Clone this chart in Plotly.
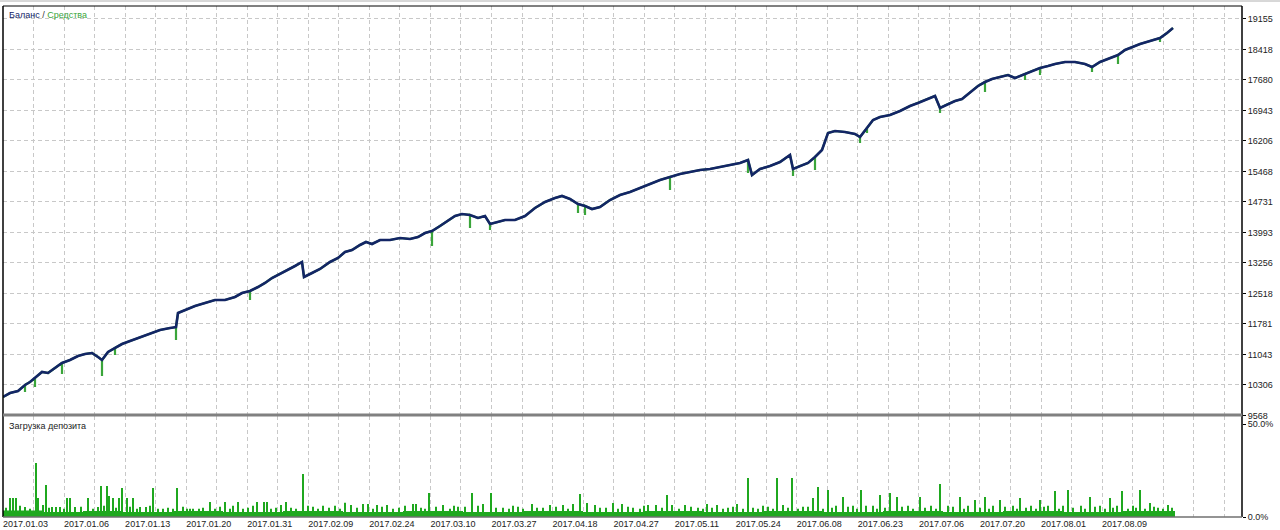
import plotly.graph_objects as go

# ---------------- data ----------------
deal = [0, 7, 15, 22, 27, 32, 39, 45, 52, 59, 67, 75, 82, 89, 95, 99, 105, 112, 119, 127,
        135, 142, 149, 157, 167, 173, 175, 182, 192, 202, 212, 222, 232, 239, 247, 255, 262,
        269, 277, 285, 292, 299, 301, 309, 317, 327, 335, 342, 349, 357, 363, 369, 377, 387,
        397, 407, 415, 422, 429, 437, 445, 452, 459, 467, 475, 482, 487, 495, 502, 512, 522,
        532, 542, 552, 559, 567, 575, 582, 589, 597, 607, 617, 627, 637, 647, 657, 667, 677,
        687, 697, 707, 717, 727, 737, 745, 749, 757, 767, 777, 787, 790, 797, 805, 812, 819,
        825, 832, 842, 852, 857, 864, 870, 877, 887, 897, 907, 915, 922, 932, 937, 945, 952,
        959, 967, 975, 982, 989, 997, 1005, 1012, 1017, 1022, 1029, 1037, 1045, 1052, 1062,
        1072, 1082, 1089, 1097, 1107, 1115, 1122, 1129, 1137, 1147, 1157, 1164, 1170]
balance = [10015, 10111, 10160, 10305, 10377, 10474, 10619, 10595, 10716, 10837, 10909, 11006,
           11054, 11078, 10982, 10909, 11103, 11199, 11296, 11369, 11441, 11514, 11562, 11635,
           11683, 11707, 12046, 12118, 12215, 12287, 12360, 12360, 12433, 12529, 12578, 12674,
           12771, 12892, 12989, 13085, 13182, 13279, 12916, 13013, 13110, 13279, 13376, 13521,
           13569, 13690, 13762, 13714, 13811, 13811, 13859, 13835, 13883, 13980, 14028, 14149,
           14270, 14391, 14439, 14415, 14343, 14391, 14198, 14246, 14294, 14294, 14391, 14585,
           14730, 14826, 14875, 14802, 14681, 14633, 14560, 14609, 14778, 14899, 14971, 15068,
           15165, 15262, 15334, 15407, 15455, 15503, 15528, 15576, 15624, 15673, 15745, 15382,
           15528, 15600, 15697, 15866, 15528, 15600, 15673, 15818, 15987, 16398, 16446, 16422,
           16374, 16301, 16519, 16712, 16785, 16833, 16930, 17051, 17123, 17196, 17293, 17003,
           17099, 17172, 17220, 17389, 17535, 17631, 17704, 17752, 17800, 17728, 17776, 17825,
           17897, 17970, 18018, 18066, 18115, 18115, 18066, 17994, 18115, 18212, 18284, 18405,
           18478, 18550, 18623, 18695, 18816, 18937]

# equity drawdowns (deal number, lowest equity)
dip_deal = [22, 32, 59, 99, 112, 173, 247, 429, 467, 487, 575, 582, 667, 745, 790, 812, 857,
            864, 937, 982, 1022, 1037, 1089, 1115, 1157]
dip_equity = [10135, 10256, 10570, 10522, 11030, 11393, 12360, 13666, 14101, 14053, 14464,
              14415, 15020, 15431, 15358, 15503, 16156, 16398, 16880, 17389, 17680, 17800,
              17873, 18066, 18600]

# deposit load (%), larger spikes
load_deal = [7, 10, 13, 22, 33, 35, 43, 49, 53, 57, 64, 67, 72, 85, 95, 98, 104, 106, 110, 116,
             119, 124, 130, 137, 143, 150, 160, 174, 187, 190, 196, 207, 212, 222, 235, 254, 261,
             264, 283, 300, 310, 320, 332, 342, 360, 365, 374, 384, 396, 410, 413, 426, 440, 455,
             469, 475, 480, 488, 500, 515, 529, 540, 547, 560, 570, 577, 584, 592, 603, 610, 619,
             630, 645, 653, 664, 669, 682, 695, 704, 714, 725, 734, 745, 760, 774, 780, 789, 800,
             810, 815, 825, 833, 840, 850, 858, 870, 877, 887, 894, 905, 917, 928, 937, 945, 957,
             965, 972, 982, 990, 997, 1010, 1017, 1028, 1037, 1045, 1052, 1060, 1065, 1078, 1087,
             1097, 1107, 1114, 1119, 1130, 1137, 1147, 1155, 1165]
load_pct = [10.2, 10.2, 10.2, 5.4, 29.0, 10.2, 17.2, 5.4, 5.4, 5.4, 10.2, 10.2, 5.4, 10.2, 5.4,
            16.7, 16.7, 11.3, 10.2, 10.2, 15.6, 10.2, 10.2, 5.4, 5.4, 15.6, 4.5, 15.6, 4.5, 4.5,
            4.5, 8.1, 4.5, 8.1, 8.1, 8.1, 8.1, 8.1, 8.1, 23.1, 5.5, 6.0, 6.0, 7.7, 7.0, 7.0, 6.5,
            6.5, 5.0, 7.0, 7.0, 12.9, 6.5, 5.5, 12.9, 6.0, 7.0, 12.9, 5.0, 5.5, 7.0, 5.0, 6.5,
            6.5, 7.0, 12.4, 7.5, 6.5, 5.0, 7.5, 7.0, 5.0, 6.5, 6.5, 11.8, 6.5, 6.5, 5.0, 7.0, 6.5,
            5.0, 7.0, 21.0, 6.0, 21.0, 6.5, 21.0, 5.5, 10.2, 16.1, 14.5, 6.0, 10.8, 6.0, 14.5,
            6.0, 11.8, 12.9, 10.8, 6.0, 10.8, 6.0, 17.7, 6.0, 10.8, 6.0, 9.1, 10.8, 6.0, 9.1, 6.0,
            10.2, 6.0, 9.1, 6.0, 14.0, 6.0, 14.5, 6.0, 10.8, 6.0, 10.2, 6.0, 14.0, 6.0, 14.5, 7.5,
            5.0, 6.5]
# deposit load (%), small spikes
small_deal = [3, 17, 27, 40, 46, 61, 78, 90, 101, 113, 127, 134, 147, 155, 165, 170, 180, 184,
              200, 217, 227, 230, 240, 245, 250, 268, 273, 278, 288, 293, 305, 315, 326, 337,
              348, 354, 370, 379, 390, 402, 418, 422, 433, 447, 451, 462, 493, 506, 510, 520,
              534, 553, 565, 597, 615, 625, 637, 641, 659, 676, 688, 700, 709, 720, 730, 740,
              750, 755, 765, 770, 785, 795, 805, 820, 829, 845, 854, 863, 874, 882, 899, 910,
              922, 933, 950, 961, 977, 986, 1002, 1014, 1023, 1033, 1041, 1056, 1070, 1082,
              1092, 1102, 1110, 1125, 1133, 1142, 1151, 1160, 1169]
small_pct = [5.0, 6.0, 4.5, 6.5, 5.0, 4.5, 5.5, 4.5, 6.0, 5.0, 5.5, 4.5, 6.0, 4.5, 5.0, 4.5, 5.5,
             4.5, 5.0, 5.5, 4.5, 6.0, 4.5, 5.0, 6.0, 4.5, 5.0, 6.5, 5.0, 4.5, 6.0, 4.5, 5.0, 4.5,
             6.5, 5.0, 4.5, 5.5, 4.5, 6.0, 5.0, 4.5, 5.5, 4.5, 6.0, 5.5, 5.0, 4.5, 6.0, 4.5, 5.0,
             5.5, 4.5, 5.0, 4.5, 5.5, 4.5, 6.0, 5.0, 4.5, 5.5, 4.5, 5.0, 4.5, 5.5, 4.5, 5.0, 4.5,
             5.5, 4.5, 5.0, 4.5, 5.5, 4.5, 5.0, 5.5, 4.5, 6.0, 4.5, 5.0, 5.5, 4.5, 5.0, 4.5, 5.5,
             4.5, 5.0, 4.5, 5.5, 4.5, 5.0, 4.5, 5.5, 4.5, 5.0, 4.5, 5.5, 4.5, 5.0, 4.5, 5.0, 4.5,
             5.5, 4.5, 5.0]
# deposit load (%), continuous base level
base_deal = [0, 40, 80, 120, 170, 220, 280, 340, 400, 460, 520, 580, 640, 700, 760, 820, 880,
             940, 1000, 1060, 1120, 1172]
base_pct = [3.5, 2.7, 3.2, 2.7, 3.2, 2.7, 3.2, 2.7, 3.2, 2.7, 3.2, 2.7, 3.2, 2.7, 3.2, 2.7,
            3.2, 2.7, 3.2, 2.7, 3.2, 0.0]

date_labels = ["2017.01.03", "2017.01.06", "2017.01.13", "2017.01.20", "2017.01.31",
               "2017.02.09", "2017.02.24", "2017.03.10", "2017.03.27", "2017.04.18",
               "2017.04.27", "2017.05.11", "2017.05.24", "2017.06.08", "2017.06.23",
               "2017.07.06", "2017.07.20", "2017.08.01", "2017.08.09"]
balance_ticks = [9568, 10306, 11043, 11781, 12518, 13256, 13993, 14731, 15468, 16206, 16943,
                 17680, 18418, 19155]
load_ticks = [0, 50]
load_tick_text = ["0.0%", "50.0%"]

# ---------------- styling ----------------
FONT = "Liberation Sans"
NAVY = "#132566"
EQ_GREEN = "#3aa53a"
LOAD_GREEN = "#1fa81f"
GRID = "#c8c8c8"
DASH = "4px,3px"
X_MAX = 1239
LABEL_STEP = 61.06
GRID_STEP = LABEL_STEP / 2
SPLIT = 101 / 511  # share of height for the deposit-load panel

# equity = balance with drawdown spikes
dips = dict(zip(dip_deal, dip_equity))
eq_x, eq_y = [], []
for x, b in zip(deal, balance):
    eq_x.append(x)
    eq_y.append(b)
    if x in dips:
        eq_x += [x, x]
        eq_y += [dips[x], b]

fig = go.Figure()
fig.add_trace(go.Scatter(x=eq_x, y=eq_y, mode="lines", line=dict(color=EQ_GREEN, width=2.2),
                         xaxis="x", yaxis="y", hoverinfo="skip"))
fig.add_trace(go.Scatter(x=deal, y=balance, mode="lines", line=dict(color=NAVY, width=2.6),
                         xaxis="x", yaxis="y", hoverinfo="skip"))
fig.add_trace(go.Scatter(x=base_deal, y=base_pct, mode="lines", line=dict(width=0, shape="hv"),
                         fill="tozeroy", fillcolor=LOAD_GREEN, xaxis="x2", yaxis="y2",
                         hoverinfo="skip"))
fig.add_trace(go.Bar(x=small_deal, y=small_pct, width=2,
                     marker=dict(color=LOAD_GREEN, line=dict(width=0)),
                     xaxis="x2", yaxis="y2", hoverinfo="skip"))
fig.add_trace(go.Bar(x=load_deal, y=load_pct, width=2,
                     marker=dict(color=LOAD_GREEN, line=dict(width=0)),
                     xaxis="x2", yaxis="y2", hoverinfo="skip"))

tickvals_x = [i * LABEL_STEP for i in range(len(date_labels))]
xcommon = dict(range=[0, X_MAX], showline=False, zeroline=False, showgrid=True,
               gridcolor=GRID, griddash=DASH, gridwidth=1, tickvals=tickvals_x,
               minor=dict(tickmode="linear", tick0=0, dtick=GRID_STEP, showgrid=True,
                          gridcolor=GRID, griddash=DASH, gridwidth=1),
               fixedrange=True)

fig.update_layout(
    width=1280, height=530,
    margin=dict(l=3, r=38, t=6, b=13, autoexpand=False),
    paper_bgcolor="white", plot_bgcolor="white",
    showlegend=False,
    barmode="overlay",
    font=dict(family=FONT, size=9, color="#222222"),
    xaxis=dict(**xcommon, anchor="y", showticklabels=False, ticks=""),
    xaxis2=dict(**xcommon, anchor="y2", ticktext=date_labels, showticklabels=True, ticks="",
                ticklabelposition="outside right", tickfont=dict(family=FONT, size=9, color="#222222"),
                automargin=False),
    yaxis=dict(domain=[SPLIT, 1], anchor="x", side="right", range=[9555, 19469],
               tickvals=balance_ticks, ticktext=[str(v) for v in balance_ticks],
               ticks="outside", ticklen=3, tickcolor="#000000", showgrid=True,
               gridcolor=GRID, griddash=DASH, gridwidth=1, zeroline=False, showline=False,
               automargin=False, fixedrange=True),
    yaxis2=dict(domain=[0, SPLIT], anchor="x2", side="right", range=[0, 54.3],
                tickvals=load_ticks, ticktext=load_tick_text, ticks="outside", ticklen=3,
                tickcolor="#000000", showgrid=False, zeroline=False, showline=False,
                automargin=False, fixedrange=True),
)

fig.update_layout(shapes=[
    # window top line
    dict(type="line", xref="paper", yref="paper", x0=-3 / 1239, x1=1 + 38 / 1239,
         y0=1 + 5 / 511, y1=1 + 5 / 511, line=dict(color="#b0b0b0", width=1)),
    # frame
    dict(type="line", xref="paper", yref="paper", x0=0, x1=1, y0=1, y1=1,
         line=dict(color="#000000", width=1)),
    dict(type="line", xref="paper", yref="paper", x0=0, x1=0, y0=0, y1=1,
         line=dict(color="#000000", width=1.5)),
    dict(type="line", xref="paper", yref="paper", x0=1, x1=1, y0=0, y1=1,
         line=dict(color="#000000", width=1.5)),
    dict(type="line", xref="paper", yref="paper", x0=0, x1=1, y0=0, y1=0,
         line=dict(color="#707070", width=1.5)),
    # separator between panels
    dict(type="line", xref="paper", yref="paper", x0=0, x1=1, y0=SPLIT + 1 / 511,
         y1=SPLIT + 1 / 511, line=dict(color="#808080", width=3)),
])

fig.add_annotation(xref="paper", yref="paper", x=0, y=1, xanchor="left", yanchor="top",
                   xshift=4, yshift=-2, showarrow=False,
                   text=f"<span style='color:{NAVY}'>Баланс</span>"
                        f"<span style='color:#333333'> / </span>"
                        f"<span style='color:{EQ_GREEN}'>Средства</span>",
                   font=dict(family=FONT, size=9))
fig.add_annotation(xref="paper", yref="paper", x=0, y=SPLIT, xanchor="left", yanchor="top",
                   xshift=4, yshift=-3, showarrow=False, text="Загрузка депозита",
                   font=dict(family=FONT, size=9, color="#222222"))

fig.write_html(
    "out.html",
    config={"displayModeBar": False, "staticPlot": True},
    post_script="document.body.style.margin='0';document.body.style.padding='0';"
                "document.body.style.overflow='hidden';",
)
